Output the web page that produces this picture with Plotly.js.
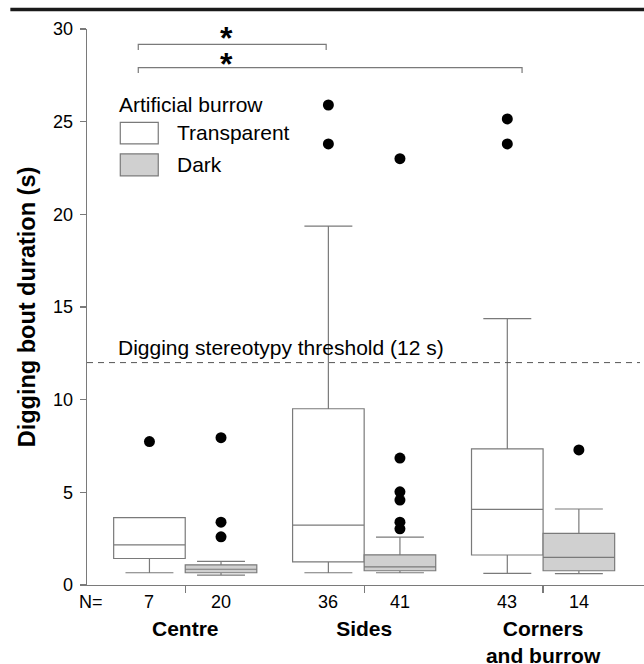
<!DOCTYPE html>
<html>
<head>
<meta charset="utf-8">
<script src="https://cdn.plot.ly/plotly-3.0.1.min.js"></script>
<style>html,body{margin:0;padding:0;background:#fff;}#chart{width:644px;height:664px;}</style>
</head>
<body>
<div id="chart"></div>
<script>
// ---- data ----
const groups = ["Centre", "Sides", "Corners<br>and burrow"];
const groupPos = [1, 2, 3];
const nTransparent = [7, 36, 43];
const nDark = [20, 41, 14];

// Transparent burrow box stats
const tLower = [0.66, 0.66, 0.63];
const tQ1 = [1.43, 1.25, 1.62];
const tMedian = [2.17, 3.23, 4.08];
const tQ3 = [3.63, 9.51, 7.34];
const tUpper = [3.63, 19.36, 14.37];
// Dark burrow box stats
const dLower = [0.53, 0.66, 0.61];
const dQ1 = [0.66, 0.77, 0.77];
const dMedian = [0.85, 0.98, 1.49];
const dQ3 = [1.09, 1.63, 2.79];
const dUpper = [1.28, 2.58, 4.10];

// Outliers (group index, value)
const tOutGroup = [0, 1, 1, 2, 2];
const tOutVal = [7.74, 25.9, 23.8, 25.15, 23.8];
const dOutGroup = [0, 0, 0, 1, 1, 1, 1, 1, 1, 2];
const dOutVal = [7.95, 3.39, 2.6, 23.0, 6.85, 5.03, 4.58, 3.39, 3.03, 7.29];

const threshold = 12;

// ---- styling ----
const off = 0.2;
const boxW = 0.4;
const lineGray = '#7a7a7a';
const darkFill = '#d0d0d0';
const font = 'Liberation Sans, Arial, Helvetica, sans-serif';

const tX = groupPos.map(p => p - off);
const dX = groupPos.map(p => p + off);

const traces = [
  {
    type: 'box', x: tX, q1: tQ1, median: tMedian, q3: tQ3,
    lowerfence: tLower, upperfence: tUpper, width: boxW, whiskerwidth: 0.67,
    fillcolor: '#ffffff', line: {color: lineGray, width: 1.2},
    boxpoints: false, showlegend: false, hoverinfo: 'skip'
  },
  {
    type: 'box', x: dX, q1: dQ1, median: dMedian, q3: dQ3,
    lowerfence: dLower, upperfence: dUpper, width: boxW, whiskerwidth: 0.67,
    fillcolor: darkFill, line: {color: lineGray, width: 1.2},
    boxpoints: false, showlegend: false, hoverinfo: 'skip'
  },
  {
    type: 'scatter', mode: 'markers',
    x: tOutGroup.map(g => groupPos[g] - off), y: tOutVal,
    marker: {color: '#000', size: 11}, showlegend: false, hoverinfo: 'skip'
  },
  {
    type: 'scatter', mode: 'markers',
    x: dOutGroup.map(g => groupPos[g] + off), y: dOutVal,
    marker: {color: '#000', size: 11}, showlegend: false, hoverinfo: 'skip'
  }
];

const plotH = 664 - 29 - 78.5;
const py = (pix) => (585.5 - pix) / plotH;
const px = (pix) => (pix - 86.7) / (644 - 86.7);

const annotations = [];
// N row
annotations.push({xref: 'paper', yref: 'paper', x: px(105), y: py(603), xanchor: 'right', yanchor: 'middle',
  text: 'N=', showarrow: false, font: {family: font, size: 18, color: '#000'}});
groupPos.forEach((p, i) => {
  annotations.push({xref: 'x', yref: 'paper', x: p - off, y: py(603), xanchor: 'center', yanchor: 'middle',
    text: String(nTransparent[i]), showarrow: false, font: {family: font, size: 18, color: '#000'}});
  annotations.push({xref: 'x', yref: 'paper', x: p + off, y: py(603), xanchor: 'center', yanchor: 'middle',
    text: String(nDark[i]), showarrow: false, font: {family: font, size: 18, color: '#000'}});
});
// threshold label
annotations.push({xref: 'paper', yref: 'paper', x: px(116), y: py(348), xanchor: 'left', yanchor: 'middle',
  text: 'Digging stereotypy threshold (12 s)', showarrow: false, font: {family: font, size: 21, color: '#000'}});
// legend
annotations.push({xref: 'paper', yref: 'paper', x: px(117), y: py(105), xanchor: 'left', yanchor: 'middle',
  text: 'Artificial burrow', showarrow: false, font: {family: font, size: 21, color: '#000'}});
annotations.push({xref: 'paper', yref: 'paper', x: px(175), y: py(133), xanchor: 'left', yanchor: 'middle',
  text: 'Transparent', showarrow: false, font: {family: font, size: 21, color: '#000'}});
annotations.push({xref: 'paper', yref: 'paper', x: px(175), y: py(165), xanchor: 'left', yanchor: 'middle',
  text: 'Dark', showarrow: false, font: {family: font, size: 21, color: '#000'}});
// significance asterisks
annotations.push({xref: 'paper', yref: 'paper', x: px(226), y: py(32), xanchor: 'center', yanchor: 'middle', yshift: -6,
  text: '<b>*</b>', showarrow: false, font: {family: font, size: 32, color: '#000'}});
annotations.push({xref: 'paper', yref: 'paper', x: px(226), y: py(58.5), xanchor: 'center', yanchor: 'middle', yshift: -6,
  text: '<b>*</b>', showarrow: false, font: {family: font, size: 32, color: '#000'}});

const shapes = [
  // top frame bar
  {type: 'line', xref: 'paper', yref: 'paper', x0: px(10), x1: px(644), y0: py(9.5), y1: py(9.5), line: {color: '#1a1a1a', width: 3.5}},
  // threshold
  {type: 'line', xref: 'paper', yref: 'y', x0: 0, x1: px(640), y0: threshold, y1: threshold, line: {color: '#555', width: 1, dash: '6px,5px'}},
  // bracket 1
  {type: 'path', xref: 'paper', yref: 'paper',
    path: `M ${px(138)} ${py(50)} L ${px(138)} ${py(44.3)} L ${px(326)} ${py(44.3)} L ${px(326)} ${py(50)}`,
    line: {color: lineGray, width: 1.2}},
  // bracket 2
  {type: 'path', xref: 'paper', yref: 'paper',
    path: `M ${px(138)} ${py(73)} L ${px(138)} ${py(67.7)} L ${px(522)} ${py(67.7)} L ${px(522)} ${py(73)}`,
    line: {color: lineGray, width: 1.2}},
  // legend boxes
  {type: 'rect', xref: 'paper', yref: 'paper', x0: px(120), x1: px(158), y0: py(144), y1: py(122.5),
    fillcolor: '#fff', line: {color: lineGray, width: 1.2}},
  {type: 'rect', xref: 'paper', yref: 'paper', x0: px(120), x1: px(158), y0: py(176), y1: py(154),
    fillcolor: darkFill, line: {color: lineGray, width: 1.2}}
];

const layout = {
  width: 644, height: 664, autosize: false,
  margin: {l: 87, r: 0, t: 29, b: 78.5},
  paper_bgcolor: '#fff', plot_bgcolor: '#fff',
  boxmode: 'overlay',
  showlegend: false,
  font: {family: font, color: '#000'},
  xaxis: {
    range: [0.451, 3.564], tickvals: groupPos, ticktext: groups,
    ticks: 'outside', ticklen: 7, tickcolor: lineGray, tickwidth: 1.2,
    showline: true, linecolor: lineGray, linewidth: 1.3,
    showgrid: false, zeroline: false,
    tickfont: {family: font, size: 21, color: '#000', weight: 'bold'},
    ticklabelstandoff: 17
  },
  yaxis: {
    range: [0, 30], tickvals: [0, 5, 10, 15, 20, 25, 30],
    ticks: 'outside', ticklen: 6, tickcolor: lineGray, tickwidth: 1.2,
    showline: true, linecolor: lineGray, linewidth: 1.3,
    showgrid: false, zeroline: false,
    tickfont: {family: font, size: 18, color: '#000'},
    ticklabelstandoff: 3,
    title: {text: 'Digging bout duration (s)', font: {family: font, size: 23.5, color: '#000', weight: 'bold'}, standoff: 10}
  },
  annotations: annotations,
  shapes: shapes
};

Plotly.newPlot('chart', traces, layout, {displayModeBar: false, staticPlot: true});
</script>
</body>
</html>
